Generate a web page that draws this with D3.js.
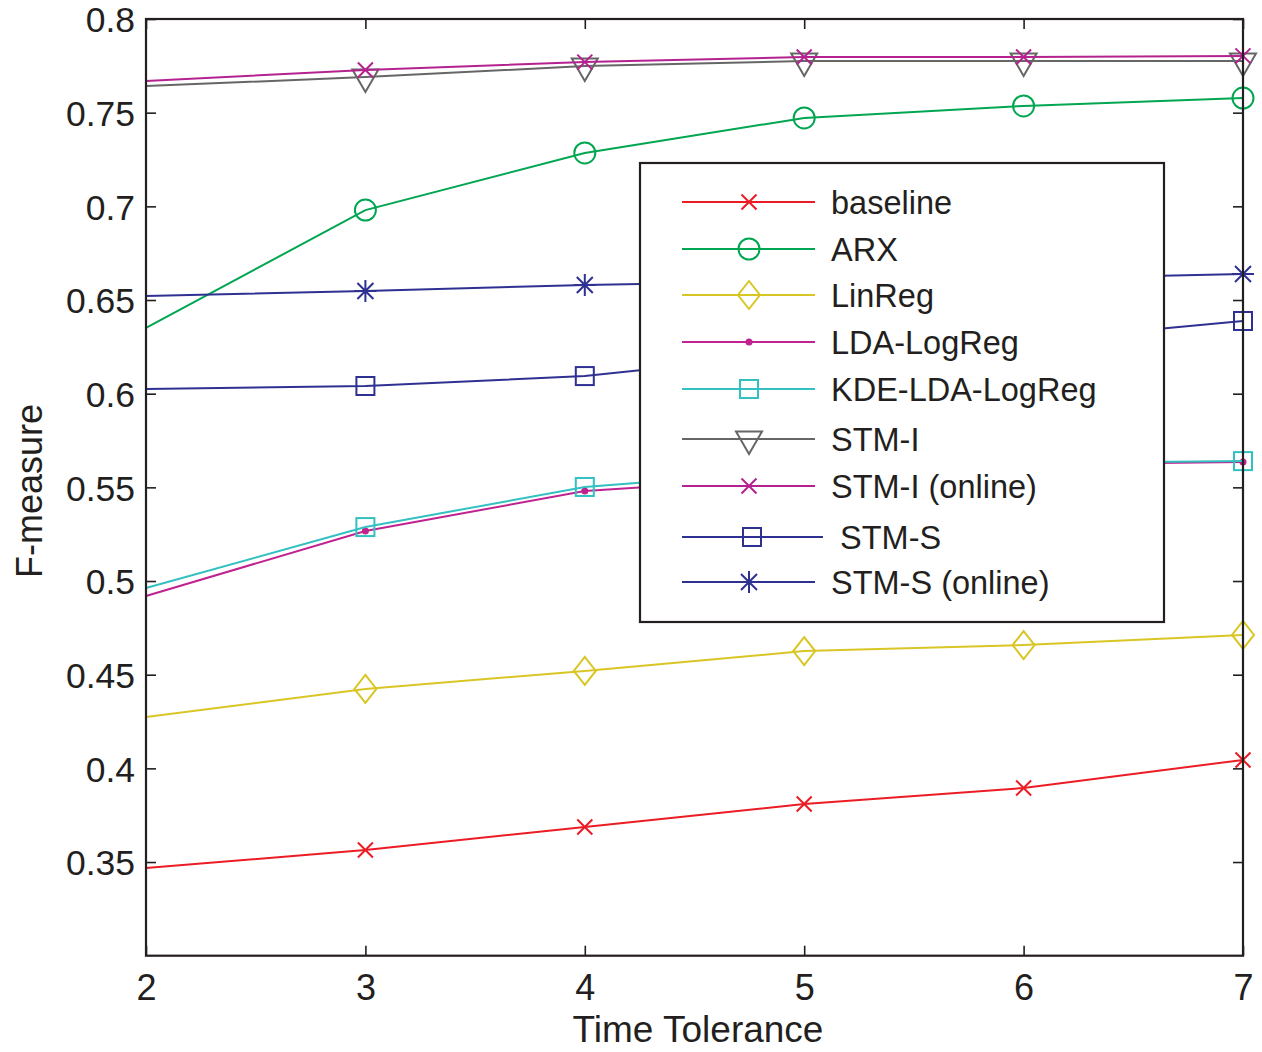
<!DOCTYPE html>
<html>
<head>
<meta charset="utf-8">
<script src="https://cdn.jsdelivr.net/npm/d3@7"></script>
<style>
  html, body { margin: 0; padding: 0; background: #fff; }
  text { font-family: "Liberation Sans", Arial, Helvetica, sans-serif; fill: #231f20; }
</style>
</head>
<body>
<svg id="chart" width="1262" height="1052"></svg>
<script>
// ---- data ----
const xValues = [2, 3, 4, 5, 6, 7];
const xTicks = [2, 3, 4, 5, 6, 7];
const yTicks = [0.35, 0.4, 0.45, 0.5, 0.55, 0.6, 0.65, 0.7, 0.75, 0.8];

const baseline      = [0.3468, 0.3564, 0.3687, 0.3810, 0.3895, 0.4045];
const arx           = [0.6351, 0.6980, 0.7285, 0.7472, 0.7536, 0.7578];
const linReg        = [0.4274, 0.4424, 0.4520, 0.4626, 0.4658, 0.4712];
const ldaLogReg     = [0.4920, 0.5267, 0.5480, 0.5555, 0.5622, 0.5635];
const kdeLdaLogReg  = [0.4963, 0.5288, 0.5502, 0.5593, 0.5628, 0.5640];
const stmI          = [0.7642, 0.7690, 0.7749, 0.7776, 0.7776, 0.7776];
const stmIOnline    = [0.7669, 0.7728, 0.7770, 0.7797, 0.7797, 0.7803];
const stmS          = [0.6025, 0.6041, 0.6094, 0.6217, 0.6279, 0.6388];
const stmSOnline    = [0.6521, 0.6548, 0.6580, 0.6602, 0.6613, 0.6639];

const seriesNames   = ["baseline", "ARX", "LinReg", "LDA-LogReg", "KDE-LDA-LogReg", "STM-I", "STM-I (online)", " STM-S", "STM-S (online)"];
const seriesValues  = [baseline, arx, linReg, ldaLogReg, kdeLdaLogReg, stmI, stmIOnline, stmS, stmSOnline];
const seriesColors  = ["#ec1c24", "#00a651", "#d9c625", "#c0228f", "#33c0c0", "#666666", "#b4228f", "#2e3192", "#2e3192"];
const seriesMarkers = ["x", "circle", "diamond", "dot", "square", "triangleDown", "x", "square", "asterisk"];

// ---- layout ----
const svg = d3.select("#chart");
const pLeft = 146, pRight = 1243, pTop = 19, pBottom = 955.7;
const x = d3.scaleLinear().domain([2, 7]).range([pLeft, pRight]);
const y = d3.scaleLinear().domain([0.3, 0.8]).range([pBottom, pTop]);
const axisColor = "#231f20";

// marker drawing
function drawMarker(g, type, cx, cy, color) {
  const sw = 2;
  if (type === "x") {
    const s = 7.5;
    g.append("path").attr("d", `M${cx-s},${cy-s}L${cx+s},${cy+s}M${cx-s},${cy+s}L${cx+s},${cy-s}`)
      .attr("stroke", color).attr("stroke-width", sw).attr("fill", "none");
  } else if (type === "circle") {
    g.append("circle").attr("cx", cx).attr("cy", cy).attr("r", 10.5)
      .attr("stroke", color).attr("stroke-width", sw).attr("fill", "none");
  } else if (type === "diamond") {
    const w = 11, h = 14;
    g.append("path").attr("d", `M${cx},${cy-h}L${cx+w},${cy}L${cx},${cy+h}L${cx-w},${cy}Z`)
      .attr("stroke", color).attr("stroke-width", sw).attr("fill", "none");
  } else if (type === "dot") {
    g.append("circle").attr("cx", cx).attr("cy", cy).attr("r", 3.5).attr("fill", color);
  } else if (type === "square") {
    const s = 9;
    g.append("rect").attr("x", cx-s).attr("y", cy-s).attr("width", 2*s).attr("height", 2*s)
      .attr("stroke", color).attr("stroke-width", sw).attr("fill", "none");
  } else if (type === "triangleDown") {
    const w = 13;
    g.append("path").attr("d", `M${cx-w},${cy-7.5}L${cx+w},${cy-7.5}L${cx},${cy+15}Z`)
      .attr("stroke", color).attr("stroke-width", sw).attr("fill", "none");
  } else if (type === "asterisk") {
    const s = 11, d = 8;
    g.append("path").attr("d", `M${cx},${cy-s}L${cx},${cy+s}M${cx-d},${cy-d}L${cx+d},${cy+d}M${cx-d},${cy+d}L${cx+d},${cy-d}M${cx-s},${cy}L${cx+s},${cy}`)
      .attr("stroke", color).attr("stroke-width", sw).attr("fill", "none");
  }
}

// ---- series ----
const line = d3.line().x((d, i) => x(xValues[i])).y(d => y(d));
const plot = svg.append("g");
seriesValues.forEach((vals, si) => {
  const g = plot.append("g");
  g.append("path").datum(vals).attr("d", line)
    .attr("fill", "none").attr("stroke", seriesColors[si]).attr("stroke-width", 2);
  vals.forEach((v, i) => {
    if (i === 0) return; // no marker at x=2
    drawMarker(g, seriesMarkers[si], x(xValues[i]), y(v), seriesColors[si]);
  });
});

// ---- axes ----
function styleAxis(g) {
  g.select(".domain").remove();
  g.selectAll(".tick line").attr("stroke", axisColor).attr("stroke-width", 1.6);
  g.selectAll(".tick text").attr("fill", axisColor).style("font-family", '"Liberation Sans", Arial, sans-serif');
}
const yLeft = svg.append("g").attr("transform", `translate(${pLeft},0)`)
  .call(d3.axisLeft(y).tickValues(yTicks).tickSize(-10).tickPadding(11).tickFormat(d3.format("")));
styleAxis(yLeft);
yLeft.selectAll(".tick text").style("font-size", "35.5px").attr("dy", "0.36em");

const yRight = svg.append("g").attr("transform", `translate(${pRight},0)`)
  .call(d3.axisRight(y).tickValues(yTicks).tickSize(-10).tickFormat(""));
styleAxis(yRight);

const xBottom = svg.append("g").attr("transform", `translate(0,${pBottom})`)
  .call(d3.axisBottom(x).tickValues(xTicks).tickSize(-10).tickPadding(19).tickFormat(d3.format("d")));
styleAxis(xBottom);
xBottom.selectAll(".tick text").style("font-size", "36px");

const xTop = svg.append("g").attr("transform", `translate(0,${pTop})`)
  .call(d3.axisTop(x).tickValues(xTicks).tickSize(-10).tickFormat(""));
styleAxis(xTop);

// frame
svg.append("rect").attr("x", pLeft).attr("y", pTop).attr("width", pRight-pLeft).attr("height", pBottom-pTop)
  .attr("fill", "none").attr("stroke", axisColor).attr("stroke-width", 2.2);

// axis titles
svg.append("text").attr("x", 698).attr("y", 1042).attr("text-anchor", "middle")
  .style("font-size", "37px").text("Time Tolerance");
svg.append("text").attr("transform", "translate(42,491) rotate(-90)").attr("text-anchor", "middle")
  .style("font-size", "36px").text("F-measure");

// ---- legend ----
const lg = svg.append("g");
lg.append("rect").attr("x", 640).attr("y", 163).attr("width", 524).attr("height", 459)
  .attr("fill", "#fff").attr("stroke", axisColor).attr("stroke-width", 2.2);
const legendY = [202, 249, 295, 342, 389, 439, 486, 537, 582];
seriesNames.forEach((name, i) => {
  const yy = legendY[i];
  const x2 = (i === 7) ? 823 : 815;
  const mx = (i === 7) ? 752 : 749;
  lg.append("line").attr("x1", 682).attr("x2", x2).attr("y1", yy).attr("y2", yy)
    .attr("stroke", seriesColors[i]).attr("stroke-width", 2);
  drawMarker(lg, seriesMarkers[i], mx, yy, seriesColors[i]);
  lg.append("text").attr("x", 831).attr("y", yy).attr("dy", "0.36em")
    .attr("xml:space", "preserve").style("white-space", "pre")
    .style("font-size", "32.5px").text(name);
});
</script>
</body>
</html>
